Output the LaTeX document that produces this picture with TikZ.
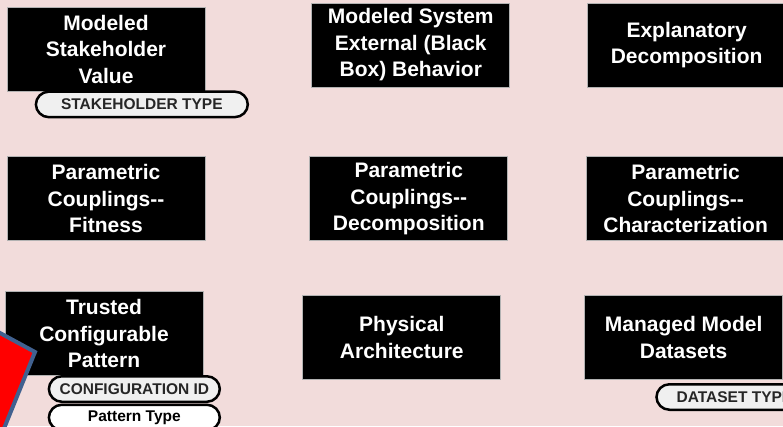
\documentclass[tikz,border=0pt]{standalone}
\usepackage{fontspec}
\setmainfont{Liberation Sans}
\usetikzlibrary{positioning}

\definecolor{bgpink}{HTML}{F2DCDB}
\definecolor{tagfill}{HTML}{F0F0F0}
\definecolor{markblue}{HTML}{41618F}

\begin{document}
\begin{tikzpicture}[
    x=1pt, y=-1pt,
    block/.style={draw=gray!60, line width=0.8pt, fill=black, text=white,
        minimum width=198pt, minimum height=84pt, inner sep=2pt, align=center,
        font=\fontsize{21pt}{26.5pt}\selectfont\bfseries},
    tag/.style={draw=black, line width=2.5pt, fill=tagfill, rounded corners=13pt,
        minimum height=25.5pt, inner sep=0pt, text=black!85,
        font=\fontsize{15.5pt}{18pt}\selectfont\bfseries}
]
\useasboundingbox (0,0) rectangle (783,426);
\clip (0,0) rectangle (783,426);
\fill[bgpink] (0,0) rectangle (783,426);

% Row 1
\node[block] (msv) at (106,49) {Modeled\\ Stakeholder\\ Value};
\node[block, right=106pt of msv, yshift=4pt] (mseb) {Modeled System\\ External (Black\\ Box) Behavior};
\node[block, right=77pt of mseb] (expl) {Explanatory\\ Decomposition};

% Row 2
\node[block, below=65pt of msv] (pcf) {Parametric\\ Couplings-{}-\\ Fitness};
\node[block, right=104pt of pcf] (pcd) {Parametric\\ Couplings-{}-\\ Decomposition};
\node[block, right=78pt of pcd] (pcc) {Parametric\\ Couplings-{}-\\ Characterization};

% Row 3
\node[block, below=50pt of pcf, xshift=-2pt] (tcp) {Trusted\\ Configurable\\ Pattern};
\node[block, right=99pt of tcp, yshift=-4pt] (phys) {Physical\\ Architecture};
\node[block, right=83pt of phys] (mmd) {Managed Model\\ Datasets};

% Tags
\node[tag, minimum width=212pt, anchor=north west] (shtype) at ([shift={(28pt,1pt)}]msv.south west) {STAKEHOLDER TYPE};
\node[tag, minimum width=171pt, anchor=north west] (cfgid) at ([shift={(43pt,1pt)}]tcp.south west) {CONFIGURATION ID};
\node[tag, minimum width=171pt, fill=white, text=black, below=0.5pt of cfgid] (ptype) {Pattern Type};
\node[tag, minimum width=156pt, anchor=north west] (dstype) at ([shift={(71pt,-3pt)}]mmd.south west) {DATASET TYPE};

% Marker
\filldraw[fill=red, draw=markblue, line width=4pt] (35,352) -- (-70,295) -- (-115,406) -- (-10,463) -- cycle;
\end{tikzpicture}
\end{document}
